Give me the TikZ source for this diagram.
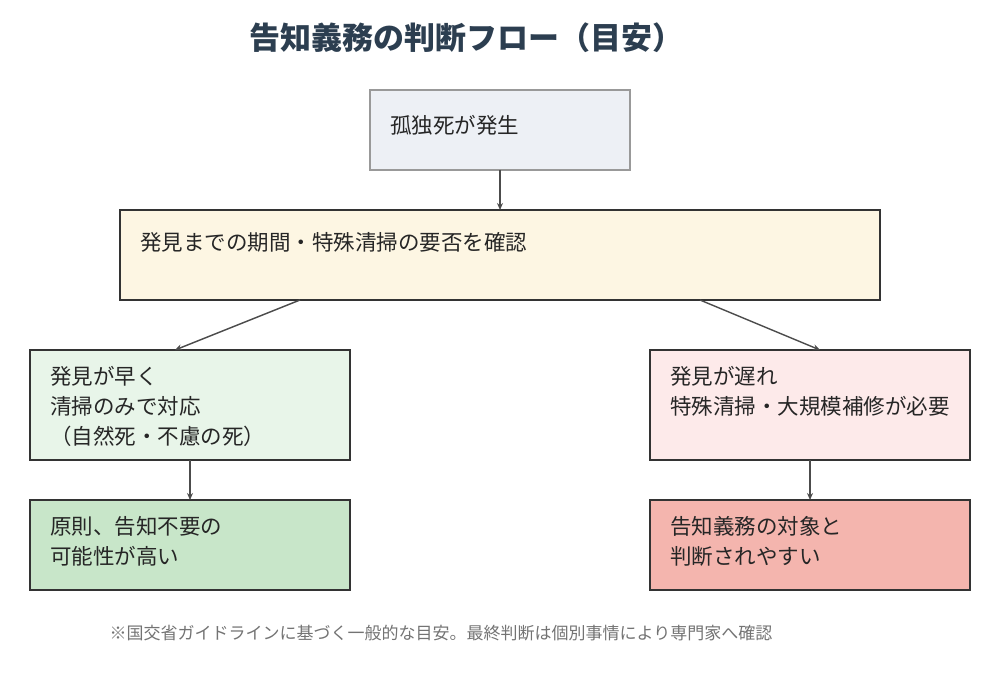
\documentclass[tikz,border=0pt]{standalone}
\usepackage{fontspec}
\setmainfont{Noto Sans CJK JP}
\usetikzlibrary{arrows.meta}
\definecolor{titlec}{HTML}{2C3E50}
\definecolor{c1}{HTML}{EDF0F5}
\definecolor{c2}{HTML}{FDF6E3}
\definecolor{c3}{HTML}{E8F5E9}
\definecolor{c4}{HTML}{FDEAEA}
\definecolor{c5}{HTML}{C8E6C9}
\definecolor{c6}{HTML}{F4B5AE}
\begin{document}
\begin{tikzpicture}[x=1pt,y=-1pt,
 box/.style={draw=#1,line width=1.4pt},
 txt/.style={anchor=west,align=left,inner sep=0pt,font=\fontsize{21.5}{30}\selectfont,text=black!85},
 arr/.style={draw=black!70,line width=1.4pt,-{Stealth[length=7pt,width=6pt]}}]
\useasboundingbox (0,0) rectangle (1000,700);
\node[font=\fontsize{31}{34}\selectfont\bfseries,text=titlec] (title) at (466,38) {告知義務の判断フロー（目安）};
\filldraw[fill=c1,box=black!40] (370,90) rectangle (630,170);
\coordinate (aS) at (500,170);
\node[txt] (ta) at (390,125) {孤独死が発生};
\filldraw[fill=c2,box=black!80] (120,210) rectangle (880,300);
\coordinate (bN) at (500,210); \coordinate (bL) at (300,300); \coordinate (bR) at (700,300);
\node[txt] (tb) at (140,242) {発見までの期間・特殊清掃の要否を確認};
\filldraw[fill=c3,box=black!80] (30,350) rectangle (350,460);
\coordinate (cN) at (175,350); \coordinate (cS) at (190,460);
\node[txt,anchor=north west] (tc) at (50,366) {発見が早く\\清掃のみで対応\\（自然死・不慮の死）};
\filldraw[fill=c4,box=black!80] (650,350) rectangle (970,460);
\coordinate (dN) at (820,350); \coordinate (dS) at (810,460);
\node[txt,anchor=north west] (td) at (670,366) {発見が遅れ\\特殊清掃・大規模補修が必要};
\filldraw[fill=c5,box=black!80] (30,500) rectangle (350,590);
\coordinate (eN) at (190,500);
\node[txt,anchor=north west] (te) at (50,516) {原則、告知不要の\\可能性が高い};
\filldraw[fill=c6,box=black!80] (650,500) rectangle (970,590);
\coordinate (fN) at (810,500);
\node[txt,anchor=north west] (tf) at (670,516) {告知義務の対象と\\判断されやすい};
\draw[arr] (aS) -- (bN);
\draw[arr] (bL) -- (cN);
\draw[arr] (bR) -- (dN);
\draw[arr] (cS) -- (eN);
\draw[arr] (dS) -- (fN);
\node[font=\fontsize{17}{20}\selectfont,text=black!55] (note) at (441,633) {※国交省ガイドラインに基づく一般的な目安。最終判断は個別事情により専門家へ確認};
\end{tikzpicture}
\end{document}
